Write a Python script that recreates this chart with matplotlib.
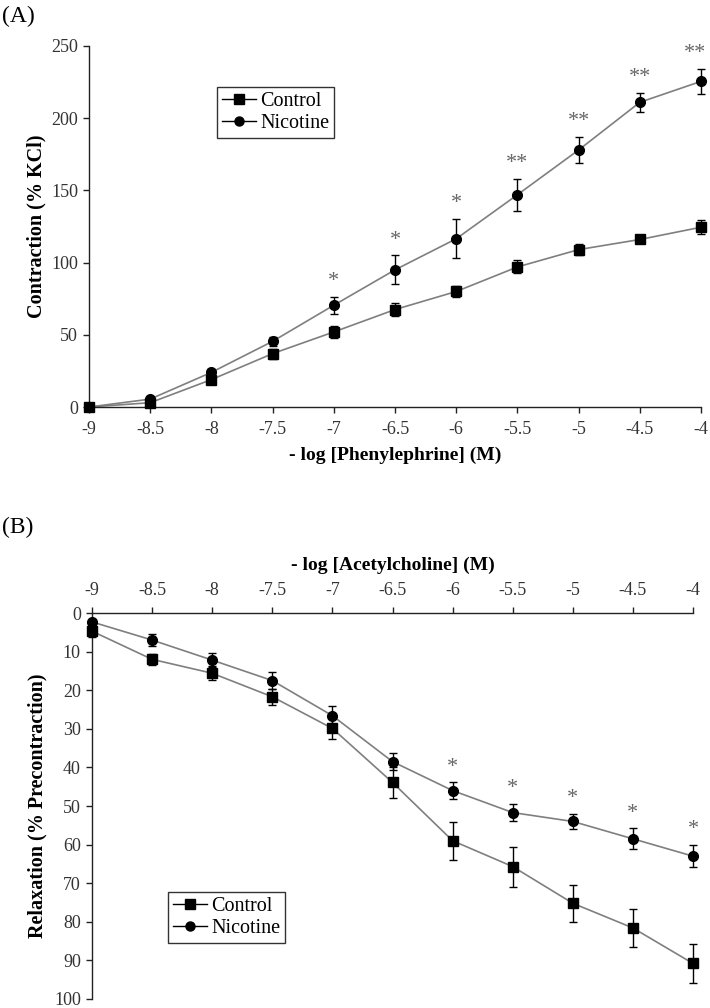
import matplotlib
matplotlib.use('Agg')
import matplotlib.pyplot as plt

plt.rcParams['font.family'] = ['Liberation Serif', 'DejaVu Serif']
plt.rcParams['axes.unicode_minus'] = False

# dose (log M) shared by both panels
log_dose = [-9, -8.5, -8, -7.5, -7, -6.5, -6, -5.5, -5, -4.5, -4]
dose_labels = ['-9', '-8.5', '-8', '-7.5', '-7', '-6.5', '-6', '-5.5', '-5', '-4.5', '-4']

# (A) phenylephrine contraction, % KCl
pe_control = [0, 3, 19, 37, 52, 67.5, 80, 97, 109, 116, 124.5]
pe_control_sem = [0, 2, 2.5, 3.5, 4, 4.5, 4, 4.5, 4, 2.5, 5]
pe_nicotine = [0, 5.5, 24, 45.5, 70.5, 95, 116.5, 147, 178, 211, 225.5]
pe_nicotine_sem = [0, 1.5, 2, 3, 6, 10, 13.5, 11, 9, 6.5, 8.5]
pe_sig = ['', '', '', '', '*', '*', '*', '**', '**', '**', '**']

# (B) acetylcholine relaxation, % precontraction
ach_control = [4.7, 12, 15.6, 21.7, 29.9, 43.9, 59, 65.7, 75.2, 81.6, 90.8]
ach_control_sem = [1.5, 1.5, 1.8, 2, 2.7, 4.0, 4.9, 5.2, 4.8, 4.9, 5.1]
ach_nicotine = [2.3, 7, 12.2, 17.5, 26.6, 38.5, 46, 51.7, 54, 58.5, 63]
ach_nicotine_sem = [0.5, 1.5, 1.8, 2.2, 2.4, 2.2, 2.1, 2.3, 2.0, 2.7, 2.9]
ach_sig = ['', '', '', '', '', '', '*', '*', '*', '*', '*']

line_col = '#7f7f7f'
tick_col = '#333333'
star_col = '#666666'


def draw_series(ax, y, err, marker, label):
    ax.errorbar(log_dose, y, yerr=err, fmt='none', ecolor='black', elinewidth=1,
                capsize=3, capthick=1, clip_on=False, zorder=3)
    ax.plot(log_dose, y, color=line_col, linewidth=1.2, zorder=2, clip_on=False)
    ax.plot(log_dose, y, linestyle='none', marker=marker, markersize=7,
            color='black', zorder=4, clip_on=False)
    # proxy for legend: line + marker
    ax.plot([], [], color='black', linewidth=1, marker=marker, markersize=6.5, label=label)


def add_stars(ax, tops, marks):
    for i, (xi, yi, s) in enumerate(zip(log_dose, tops, marks)):
        if not s:
            continue
        # keep the wide last label inside the figure edge
        dx = -4 if (i == len(log_dose) - 1 and len(s) > 1) else 0
        ax.annotate(s, xy=(xi, yi), xytext=(dx, 11), textcoords='offset points',
                    ha='center', va='center', fontsize=16, color=star_col)


def style_axes(ax):
    for side in ['left', 'right', 'top', 'bottom']:
        ax.spines[side].set_color('#222222')
        ax.spines[side].set_linewidth(1)
    ax.tick_params(direction='out', length=4, width=1, colors='#222222',
                   labelcolor=tick_col, labelsize=13, pad=4)


def add_legend(ax, anchor):
    leg = ax.legend(loc='upper left', bbox_to_anchor=anchor, bbox_transform=fig.transFigure,
                    fontsize=14.5, frameon=True, fancybox=False, edgecolor='black',
                    handlelength=1.7, handletextpad=0.2, borderpad=0.25,
                    labelspacing=0.15, borderaxespad=0)
    leg.get_frame().set_linewidth(1)


fig = plt.figure(figsize=(7.1, 10.08), dpi=100)

# ---- panel A ----
axA = fig.add_axes([0.1254, 0.5962, 0.8620, 0.3582])
draw_series(axA, pe_control, pe_control_sem, 's', 'Control')
draw_series(axA, pe_nicotine, pe_nicotine_sem, 'o', 'Nicotine')
add_stars(axA, [m + e for m, e in zip(pe_nicotine, pe_nicotine_sem)], pe_sig)
axA.set_xlim(-9, -4)
axA.set_ylim(0, 250)
axA.set_xticks(log_dose)
axA.set_xticklabels(dose_labels)
axA.set_yticks([0, 50, 100, 150, 200, 250])
axA.spines['top'].set_visible(False)
axA.spines['right'].set_visible(False)
style_axes(axA)
axA.tick_params(axis='x', pad=6)
axA.set_xlabel('- log [Phenylephrine] (M)', fontsize=14, fontweight='bold', labelpad=6)
axA.set_ylabel('Contraction (% KCl)', fontsize=14.5, fontweight='bold', labelpad=3)
add_legend(axA, (0.3056, 0.9137))

# ---- panel B ----
axB = fig.add_axes([0.1296, 0.00893, 0.8465, 0.3829])
draw_series(axB, ach_control, ach_control_sem, 's', 'Control')
draw_series(axB, ach_nicotine, ach_nicotine_sem, 'o', 'Nicotine')
add_stars(axB, [m - e for m, e in zip(ach_nicotine, ach_nicotine_sem)], ach_sig)
axB.set_xlim(-9, -4)
axB.set_ylim(100, 0)
axB.xaxis.tick_top()
axB.xaxis.set_label_position('top')
axB.set_xticks(log_dose)
axB.set_xticklabels(dose_labels)
axB.set_yticks(range(0, 101, 10))
axB.spines['bottom'].set_visible(False)
axB.spines['right'].set_visible(False)
style_axes(axB)
axB.tick_params(axis='x', pad=6)
axB.set_xlabel('- log [Acetylcholine] (M)', fontsize=14, fontweight='bold', labelpad=9)
axB.set_ylabel('Relaxation (% Precontraction)', fontsize=14.5, fontweight='bold', labelpad=5)
add_legend(axB, (0.2366, 0.1151))

fig.text(0.003, 0.984, '(A)', fontsize=17, va='center', ha='left')
fig.text(0.003, 0.477, '(B)', fontsize=17, va='center', ha='left')

fig.savefig('out.png', dpi=100)
